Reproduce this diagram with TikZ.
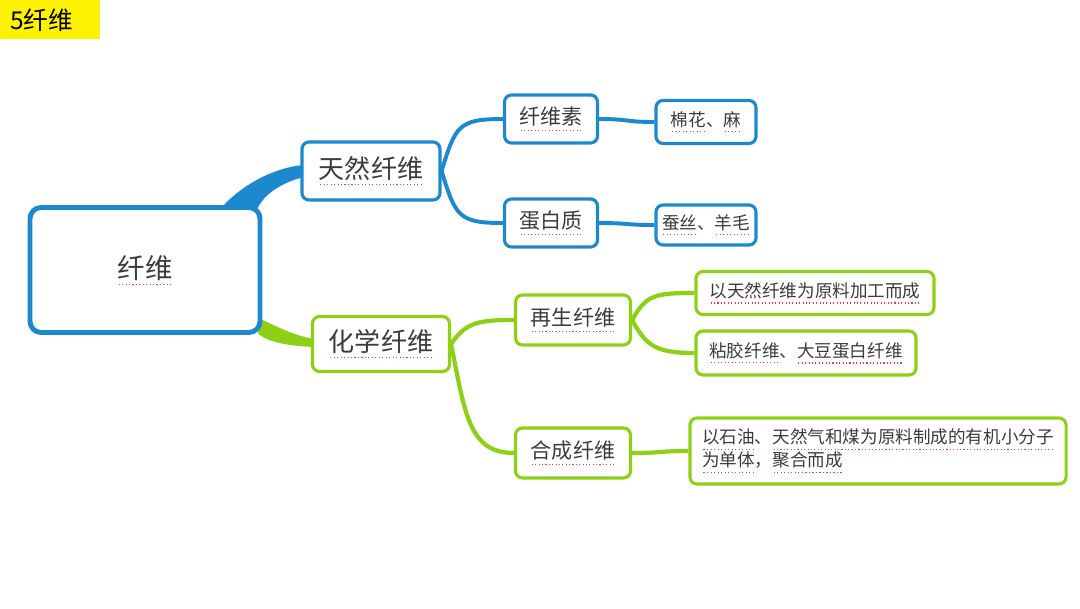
\documentclass[tikz,border=0pt]{standalone}
\usepackage{fontspec}
\setmainfont{Noto Sans CJK SC}
\usetikzlibrary{calc, backgrounds}

\definecolor{mapblue}{RGB}{28,136,206}
\definecolor{mapgreen}{RGB}{141,208,22}
\definecolor{ink}{RGB}{60,60,60}

% red dotted underline (spell check marks)
\newcommand\redul[1]{\setbox0\hbox{#1}\leavevmode\vtop{\copy0\nointerlineskip\kern2.5pt\hbox to\wd0{\color{red!80}\xleaders\hbox to 2.4pt{\hss\rule{0.8pt}{0.8pt}\hss}\hfill}}}

\begin{document}
\begin{tikzpicture}[x=0.025cm, y=-0.025cm, text=ink,
  box/.style={draw, fill=white, rounded corners=5pt, line width=2.2pt, inner sep=2pt},
  bbox/.style={box, draw=mapblue},
  gbox/.style={box, draw=mapgreen},
  bline/.style={draw=mapblue, line width=2.8pt},
  gline/.style={draw=mapgreen, line width=3pt},
  big/.style={font=\fontsize{18.5pt}{22pt}\selectfont},
  mid/.style={font=\fontsize{15pt}{18pt}\selectfont},
  small/.style={font=\fontsize{12.5pt}{16.5pt}\selectfont}]

\useasboundingbox (0,0) rectangle (1080,608);

% --- title ---
\node[fill=yellow, text=black, anchor=north west, minimum height=0.975cm, inner xsep=0.25cm,
  text width=2cm, align=left, font=\fontsize{17.5pt}{20pt}\selectfont] (title) at (0,0) {5纤维};

% --- root ---
\node[bbox, line width=3.5pt, rounded corners=8pt, minimum width=5.75cm, minimum height=3.125cm,
  font=\fontsize{19.5pt}{23pt}\selectfont] (root) at (145,270) {\redul{纤维}};

% --- natural fibres ---
\node[bbox, big, minimum width=3.45cm, minimum height=1.45cm] (trxw) at (371,171) {\redul{天然纤维}};
\node[bbox, mid, minimum width=2.325cm, minimum height=1.2cm] (xws) at (551,119) {\redul{纤维素}};
\node[bbox, mid, minimum width=2.325cm, minimum height=1.2cm] (dbz) at (551,223) {\redul{蛋白质}};
\node[bbox, small, minimum width=2.5cm, minimum height=1.075cm] (mh) at (706,122) {\redul{棉花}、\redul{麻}};
\node[bbox, small, minimum width=2.5cm, minimum height=1.0cm] (cs) at (706,225) {\redul{蚕丝}、\redul{羊毛}};

% --- chemical fibres ---
\node[gbox, big, minimum width=3.425cm, minimum height=1.375cm] (hxxw) at (381,344) {\redul{化学纤维}};
\node[gbox, mid, minimum width=2.875cm, minimum height=1.25cm] (zsxw) at (573,320) {\redul{再生纤维}};
\node[gbox, mid, minimum width=2.875cm, minimum height=1.25cm] (hcxw) at (573,453) {\redul{合成纤维}};
\node[gbox, small, minimum width=5.95cm, minimum height=1.075cm] (yl1) at (815,293) {\redul{以天然纤维为原料加工而成}};
\node[gbox, small, minimum width=5.5cm, minimum height=1.1cm] (yl2) at (806,353) {\redul{粘胶纤维}、\redul{大豆蛋白纤维}};
\node[gbox, small, minimum width=9.4cm, minimum height=1.65cm, align=left] (yl3) at (878,451)
  {\redul{以石油}、\redul{天然气和煤为原料制成的有机小分子}\\\redul{为单体}，\redul{聚合而成}};

% connectors behind the boxes
\begin{scope}[on background layer]
\fill[mapblue] ($(root.north east)+(-44,6)$) .. controls (240,185) and (275,167) .. ($(trxw.west)+(4,-6)$)
  -- ($(trxw.west)+(4,6)$) .. controls (282,182) and (262,195) .. ($(root.north east)+(-6,6)$) -- cycle;
\fill[mapgreen] ($(root.east)+(-4,48)$) .. controls (280,328) and (295,336) .. ($(hxxw.west)+(4,-5)$)
  -- ($(hxxw.west)+(4,3)$) .. controls (290,346) and (270,343) .. ($(root.east)+(-4,64)$) -- cycle;

\draw[bline] (trxw.east) .. controls +(14,-45) and +(-45,0) .. (xws.west);
\draw[bline] (trxw.east) .. controls +(14,45) and +(-45,0) .. (dbz.west);
\draw[bline] (xws.east) .. controls +(30,0) and +(-30,0) .. (mh.west);
\draw[bline] (dbz.east) .. controls +(30,0) and +(-30,0) .. (cs.west);

\draw[gline] (hxxw.east) .. controls +(15,-22) and +(-35,0) .. (zsxw.west);
\draw[gline] (hxxw.east) .. controls +(14,70) and +(-45,0) .. (hcxw.west);
\draw[gline] (zsxw.east) .. controls +(14,-25) and +(-40,0) .. (yl1.west);
\draw[gline] (zsxw.east) .. controls +(14,25) and +(-40,0) .. (yl2.west);
\draw[gline] (hcxw.east) .. controls +(30,0) and +(-30,0) .. (yl3.west);
\end{scope}

\end{tikzpicture}
\end{document}
